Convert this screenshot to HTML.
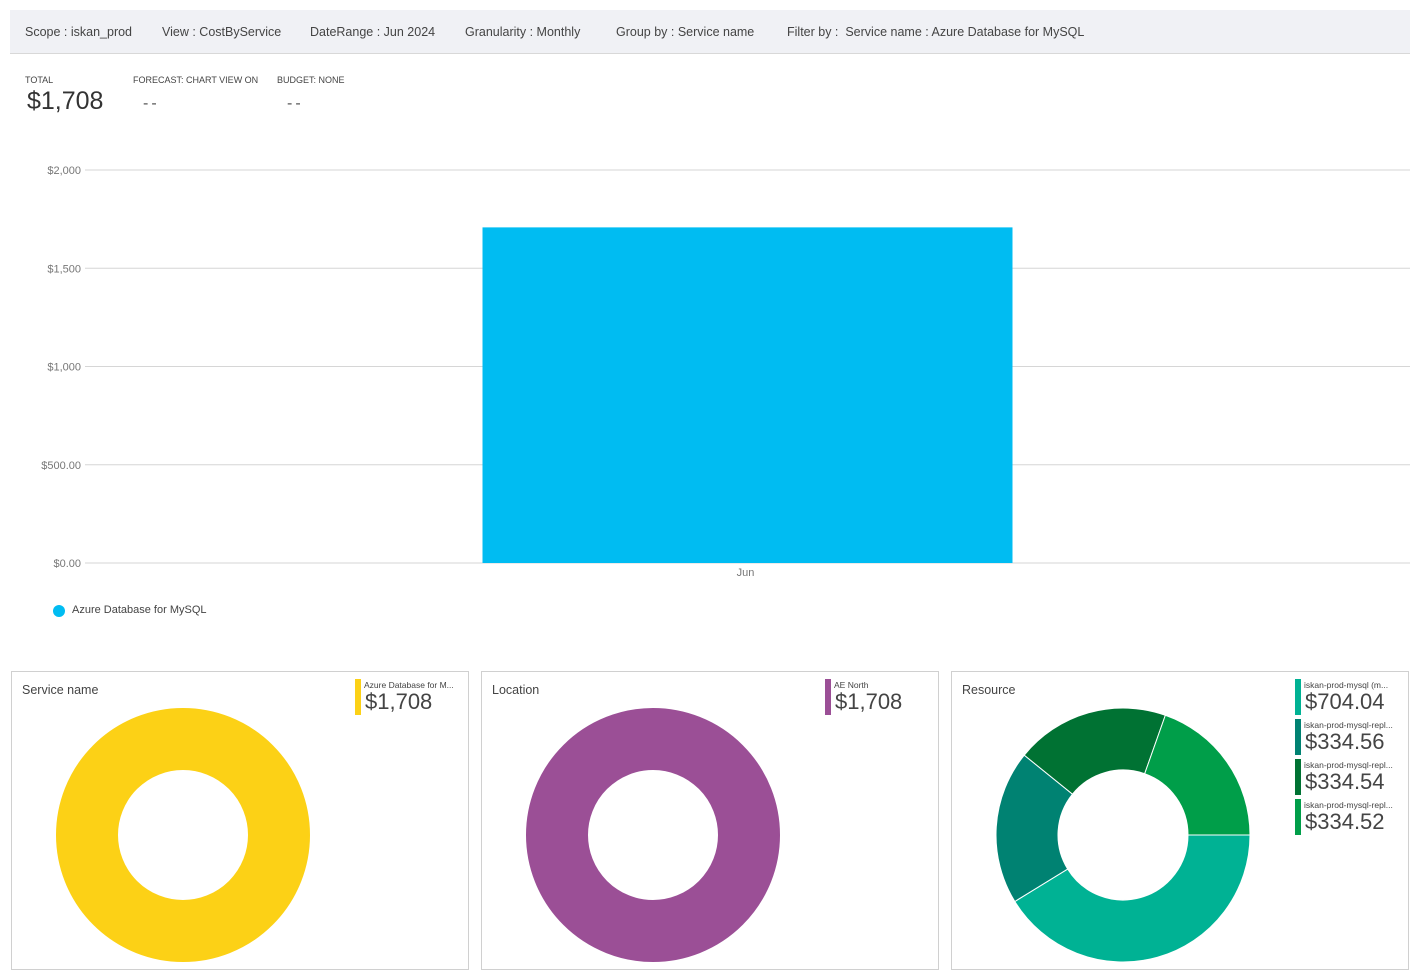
<!DOCTYPE html>
<html><head><meta charset="utf-8"><style>
body{margin:0;width:1420px;height:980px;background:#fff;font-family:"Liberation Sans",sans-serif;color:#333;position:relative;overflow:hidden}
.hdr{position:absolute;left:10px;top:10px;width:1400px;height:43px;background:#f0f1f5;border-bottom:1px solid #d8d8d8}
.hdr span{position:absolute;top:15px;font-size:12.5px;color:#444}
.lbl{position:absolute;font-size:9px;color:#444}
.big{position:absolute;font-size:25px;color:#333}
.dash{position:absolute;font-size:16px;color:#555;letter-spacing:3px}
.panel{position:absolute;top:671px;width:456px;height:297px;border:1px solid #d0d0d0}
.ptitle{position:absolute;left:10px;top:11px;font-size:12.5px;color:#444}
.leg{position:absolute;width:110px;height:36px}
.leg .bar{position:absolute;left:0;top:0;width:6px;height:36px}
.leg .n{position:absolute;left:9px;top:1px;font-size:8.5px;color:#444;white-space:nowrap}
.leg .v{position:absolute;left:10px;top:10px;font-size:22px;color:#444}
</style></head><body>
<div class="hdr">
<span style="left:15px">Scope : iskan_prod</span>
<span style="left:152px">View : CostByService</span>
<span style="left:300px">DateRange : Jun 2024</span>
<span style="left:455px">Granularity : Monthly</span>
<span style="left:606px">Group by : Service name</span>
<span style="left:777px">Filter by :&nbsp; Service name : Azure Database for MySQL</span>
</div>
<div class="lbl" style="left:25px;top:75px">TOTAL</div>
<div class="big" style="left:27px;top:87px">$1,708</div>
<div class="lbl" style="left:133px;top:75px">FORECAST: CHART VIEW ON</div>
<div class="dash" style="left:143px;top:95px">--</div>
<div class="lbl" style="left:277px;top:75px">BUDGET: NONE</div>
<div class="dash" style="left:287px;top:95px">--</div>

<svg id="chart" style="position:absolute;left:0;top:0" width="1420" height="640"></svg>
<div style="position:absolute;left:53px;top:605px;width:12px;height:12px;border-radius:50%;background:#00bcf2"></div>
<div style="position:absolute;left:72px;top:604px;font-size:11px;color:#444">Azure Database for MySQL</div>

<div class="panel" style="left:11px"><div class="ptitle">Service name</div>
<div class="leg" style="left:343px;top:7px"><div class="bar" style="background:#fcd116"></div><div class="n">Azure Database for M...</div><div class="v">$1,708</div></div></div>
<div class="panel" style="left:481px"><div class="ptitle">Location</div>
<div class="leg" style="left:343px;top:7px"><div class="bar" style="background:#9b4f96"></div><div class="n">AE North</div><div class="v">$1,708</div></div></div>
<div class="panel" style="left:951px"><div class="ptitle">Resource</div><div id="resleg"></div></div>
<svg id="donuts" style="position:absolute;left:0;top:0;pointer-events:none" width="1420" height="980"></svg>
<script>
const months=["Jun"];
const costs=[1708];
const yTicks=[0,500,1000,1500,2000];
const yTickLabels=["$0.00","$500.00","$1,000","$1,500","$2,000"];
const resNames=["iskan-prod-mysql (m...","iskan-prod-mysql-repl...","iskan-prod-mysql-repl...","iskan-prod-mysql-repl..."];
const resValues=[704.04,334.56,334.54,334.52];
const resColors=["#00b294","#008272","#007233","#009e49"];
const svgNS="http://www.w3.org/2000/svg";
function mk(p,t,a){const e=document.createElementNS(svgNS,t);for(const k in a)e.setAttribute(k,a[k]);p.appendChild(e);return e;}
const ch=document.getElementById('chart');
const y=v=>563-v/2000*393;
yTicks.forEach((t,i)=>{
 const l=mk(ch,'line',{x1:85,x2:1410,y1:y(t),y2:y(t),stroke:'#d6d6d6'});
 
 const tx=mk(ch,'text',{x:81,y:y(t)+4,'text-anchor':'end','font-size':11,fill:'#777','font-family':'Liberation Sans'});
 tx.textContent=yTickLabels[i];
});
const bandW=1325/months.length;
months.forEach((m,i)=>{
 const cx=85+bandW*(i+0.5);
 const r=mk(ch,'rect',{x:cx-265,width:530,y:y(costs[i]),height:y(0)-y(costs[i]),fill:'#00bcf2'});
 
 const t=mk(ch,'text',{x:cx-2,y:576,'text-anchor':'middle','font-size':11,fill:'#777','font-family':'Liberation Sans'});
 t.textContent=m;
});
const dn=document.getElementById('donuts');
function arc(cx,cy,R,r,a0,a1){const p=(a,rr)=>[cx+rr*Math.sin(a),cy-rr*Math.cos(a)];const lg=a1-a0>Math.PI?1:0;
 const [x0,y0]=p(a0,R),[x1,y1]=p(a1,R),[x2,y2]=p(a1,r),[x3,y3]=p(a0,r);
 return `M${x0} ${y0}A${R} ${R} 0 ${lg} 1 ${x1} ${y1}L${x2} ${y2}A${r} ${r} 0 ${lg} 0 ${x3} ${y3}Z`;}
function ring(cx,col,name){const c=mk(dn,'circle',{cx:cx,cy:835,r:96,fill:'none',stroke:col,'stroke-width':62});
 }
ring(183,'#fcd116','service-donut');ring(653,'#9b4f96','location-donut');
const tot=resValues.reduce((a,b)=>a+b,0);let a=Math.PI/2;
resValues.forEach((v,i)=>{const a1=a+v/tot*2*Math.PI;
 const p=mk(dn,'path',{d:arc(1123,835,127,65,a,a1),fill:resColors[i],stroke:'#fff','stroke-width':1});
 a=a1;});
const rl=document.getElementById('resleg');
resValues.forEach((v,i)=>{const d=document.createElement('div');d.className='leg';d.style.left='343px';d.style.top=(7+i*40)+'px';
 
 
 d.innerHTML=`<div class="bar" style="background:${resColors[i]}"></div><div class="n">${resNames[i]}</div><div class="v">$${v.toFixed(2)}</div>`;rl.appendChild(d);});
</script>
</body></html>
